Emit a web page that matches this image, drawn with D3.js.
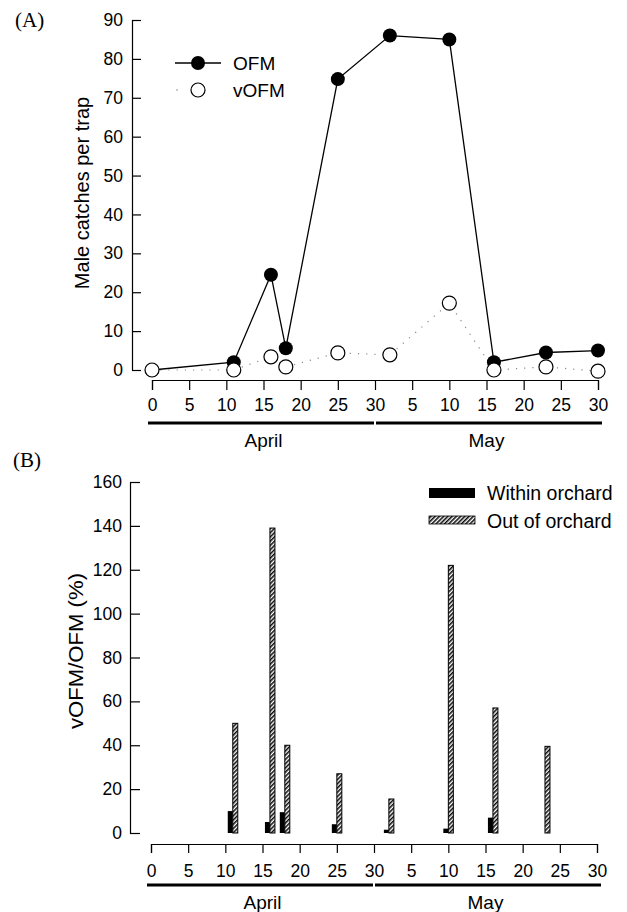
<!DOCTYPE html>
<html>
<head>
<meta charset="utf-8">
<script src="https://cdn.jsdelivr.net/npm/d3@7"></script>
<style>
  body { margin: 0; background: #fff; }
  svg { display: block; }
  text { font-family: "Liberation Sans", Arial, sans-serif; fill: #000; }
</style>
</head>
<body>
<div id="chart"></div>
<script>
// panel A: trap catches
const daysA = [0, 11, 16, 18, 25, 32, 40, 46, 53, 60]
const ofm = [0, 2, 24.5, 5.6, 74.8, 86, 85, 2, 4.5, 5]
const vofm = [0, 0, 3.4, 0.8, 4.4, 3.9, 17.2, 0, 0.8, -0.3]

// panel B: vOFM/OFM ratio
const daysB = [11, 16, 18, 25, 32, 40, 46, 53]
const within = [10, 5, 9.5, 4, 1.5, 2, 7, 0]
const outside = [50, 139, 40, 27, 15.5, 122, 57, 39.5]

// x ticks: April 0..30 then May 5..30
const dayTicks = d3.range(0, 61, 5)
const dayTickLabels = ["0", "5", "10", "15", "20", "25", "30", "5", "10", "15", "20", "25", "30"]
const months = [{ name: "April", from: 0, to: 30 }, { name: "May", from: 30, to: 60 }]

const width = 627
const height = 912

const svg = d3.select("#chart").append("svg").attr("width", width).attr("height", height)

// hatch pattern for "out of orchard"
svg.append("defs")
  .append("pattern")
  .attr("id", "hatch")
  .attr("patternUnits", "userSpaceOnUse")
  .attr("width", 3)
  .attr("height", 3)
  .attr("patternTransform", "rotate(45)")
  .call((p) => {
    p.append("rect").attr("width", 3).attr("height", 3).attr("fill", "#fff")
    p.append("line").attr("x1", 0.8).attr("x2", 0.8).attr("y1", 0).attr("y2", 3)
      .attr("stroke", "#000").attr("stroke-width", 1.5)
  })

function styleAxis(g) {
  g.selectAll("path, line").attr("stroke", "#000").attr("stroke-width", 1.2)
  g.selectAll("text").attr("font-size", 17.5).attr("font-family", "Liberation Sans, Arial, sans-serif")
}

function monthBar(x, yLine, yText) {
  months.forEach((m) => {
    svg.append("line")
      .attr("x1", x(m.from) - (m.from === 0 ? 4 : -1)).attr("x2", x(m.to) + (m.to === 60 ? 4 : -1))
      .attr("y1", yLine).attr("y2", yLine)
      .attr("stroke", "#000").attr("stroke-width", 3)
    svg.append("text")
      .attr("x", (x(m.from) + x(m.to)) / 2).attr("y", yText)
      .attr("text-anchor", "middle").attr("font-size", 19)
      .text(m.name)
  })
}

// ---------- Panel A ----------
const xA = d3.scaleLinear().domain([0, 60]).range([152, 598])
const yA = d3.scaleLinear().domain([0, 90]).range([370, 20])

svg.append("text").attr("x", 15).attr("y", 27).attr("font-size", 21)
  .style("font-family", "Liberation Serif, Times New Roman, serif").text("(A)")

svg.append("g").attr("transform", "translate(132,0)")
  .call(d3.axisLeft(yA).tickValues(d3.range(0, 91, 10)).tickSizeInner(-9).tickSizeOuter(0).tickPadding(9))
  .call(styleAxis)

svg.append("g").attr("transform", "translate(0,380)")
  .call(d3.axisBottom(xA).tickValues(dayTicks).tickFormat((d, i) => dayTickLabels[i]).tickSizeOuter(0).tickSize(10).tickPadding(9))
  .call(styleAxis)

monthBar(xA, 423, 447)

svg.append("text")
  .attr("transform", "translate(89,193) rotate(-90)")
  .attr("text-anchor", "middle").attr("font-size", 20)
  .text("Male catches per trap")

const lineA = d3.line().x((d) => xA(d[0])).y((d) => yA(d[1]))

svg.append("path")
  .datum(daysA.map((d, i) => [d, vofm[i]]))
  .attr("d", lineA).attr("fill", "none")
  .attr("stroke", "#888").attr("stroke-width", 1.2).attr("stroke-dasharray", "1.2,7")

svg.append("path")
  .datum(daysA.map((d, i) => [d, ofm[i]]))
  .attr("d", lineA).attr("fill", "none")
  .attr("stroke", "#000").attr("stroke-width", 1.3)

svg.selectAll(".ofm").data(daysA).enter().append("circle")
  .attr("cx", (d) => xA(d)).attr("cy", (d, i) => yA(ofm[i])).attr("r", 7)
  .attr("fill", "#000")

svg.selectAll(".vofm").data(daysA).enter().append("circle")
  .attr("cx", (d) => xA(d)).attr("cy", (d, i) => yA(vofm[i])).attr("r", 7)
  .attr("fill", "#fff").attr("stroke", "#000").attr("stroke-width", 1.2)

// legend A
svg.append("line").attr("x1", 175).attr("x2", 221).attr("y1", 63).attr("y2", 63)
  .attr("stroke", "#000").attr("stroke-width", 1.3)
svg.append("circle").attr("cx", 198).attr("cy", 63).attr("r", 7).attr("fill", "#000")
svg.append("text").attr("x", 233).attr("y", 70).attr("font-size", 19).text("OFM")
svg.append("circle").attr("cx", 177).attr("cy", 90).attr("r", 0.8).attr("fill", "#888")
svg.append("circle").attr("cx", 198).attr("cy", 90).attr("r", 7)
  .attr("fill", "#fff").attr("stroke", "#000").attr("stroke-width", 1.2)
svg.append("text").attr("x", 233).attr("y", 97).attr("font-size", 19).text("vOFM")

// ---------- Panel B ----------
const xB = d3.scaleLinear().domain([0, 60]).range([151, 597])
const yB = d3.scaleLinear().domain([0, 160]).range([833, 482])
const barW = 5

svg.append("text").attr("x", 13).attr("y", 467).attr("font-size", 21)
  .style("font-family", "Liberation Serif, Times New Roman, serif").text("(B)")

svg.append("g").attr("transform", "translate(130,0)")
  .call(d3.axisLeft(yB).tickValues(d3.range(0, 161, 20)).tickSizeInner(-10).tickSizeOuter(0).tickPadding(8))
  .call(styleAxis)

svg.append("g").attr("transform", "translate(0,844)")
  .call(d3.axisBottom(xB).tickValues(dayTicks).tickFormat((d, i) => dayTickLabels[i]).tickSizeOuter(0).tickSize(9).tickPadding(12))
  .call(styleAxis)

monthBar(xB, 885, 909)

svg.append("text")
  .attr("transform", "translate(83,651) rotate(-90)")
  .attr("text-anchor", "middle").attr("font-size", 20)
  .attr("textLength", 156).attr("lengthAdjust", "spacingAndGlyphs")
  .text("vOFM/OFM (%)")

svg.selectAll(".within").data(daysB).enter().append("rect")
  .attr("x", (d) => xB(d) - barW).attr("width", barW)
  .attr("y", (d, i) => yB(within[i])).attr("height", (d, i) => yB(0) - yB(within[i]))
  .attr("fill", "#000")

svg.selectAll(".outside").data(daysB).enter().append("rect")
  .attr("x", (d) => xB(d)).attr("width", barW)
  .attr("y", (d, i) => yB(outside[i])).attr("height", (d, i) => yB(0) - yB(outside[i]))
  .attr("fill", "url(#hatch)").attr("stroke", "#000").attr("stroke-width", 1)

// legend B
svg.append("rect").attr("x", 429).attr("y", 488).attr("width", 46).attr("height", 10).attr("fill", "#000")
svg.append("text").attr("x", 487).attr("y", 500).attr("font-size", 19.5).text("Within orchard")
svg.append("rect").attr("x", 429).attr("y", 516).attr("width", 46).attr("height", 8)
  .attr("fill", "url(#hatch)").attr("stroke", "#000").attr("stroke-width", 0.8)
svg.append("text").attr("x", 487).attr("y", 528).attr("font-size", 19.5).text("Out of orchard")
</script>
</body>
</html>
